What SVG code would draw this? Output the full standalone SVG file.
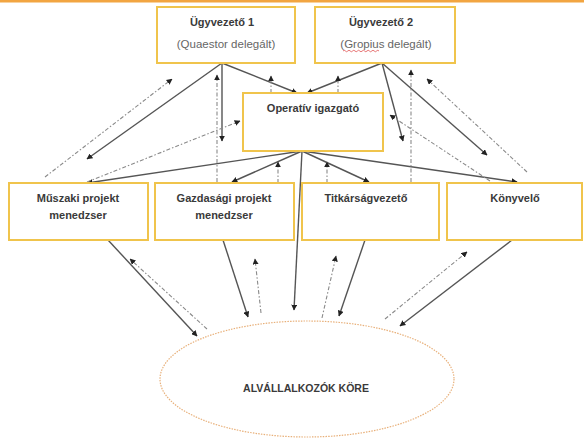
<svg xmlns="http://www.w3.org/2000/svg" width="584" height="440" viewBox="0 0 584 440">
<style>
.box{fill:#fff;stroke:#f0c44c;stroke-width:2}
.t{font-family:"Liberation Sans",Arial,sans-serif;font-weight:bold;font-size:11px;fill:#3a3a3a;text-anchor:middle}
.s{font-family:"Liberation Sans",Arial,sans-serif;font-size:11.5px;fill:#666;text-anchor:middle}
.sol{stroke:#555;stroke-width:1.4;fill:none;marker-end:url(#a)}
.das{stroke:#8a8a8a;stroke-width:1.1;fill:none;stroke-dasharray:4 2 1.5 2;marker-end:url(#b)}
</style>
<defs>
<marker id="a" viewBox="0 0 10 10" refX="9" refY="5" markerWidth="6" markerHeight="6" markerUnits="userSpaceOnUse" orient="auto"><path d="M0,0 L10,5 L0,10 z" fill="#222"/></marker>
<marker id="b" viewBox="0 0 10 10" refX="9" refY="5" markerWidth="6" markerHeight="6" markerUnits="userSpaceOnUse" orient="auto"><path d="M0,0 L10,5 L0,10 z" fill="#222"/></marker>
</defs>
<rect width="584" height="440" fill="#fff"/>
<rect x="0" y="0" width="584" height="2.5" fill="#f2a541"/>
<g id="connectors">
<line class="sol" x1="222" y1="63" x2="87" y2="159"/>
<line class="sol" x1="222" y1="63" x2="222" y2="141"/>
<line class="sol" x1="222" y1="63" x2="297" y2="93"/>
<line class="sol" x1="382" y1="63" x2="307" y2="93"/>
<line class="sol" x1="382" y1="63" x2="403" y2="141"/>
<line class="sol" x1="382" y1="63" x2="487" y2="155"/>
<line class="sol" x1="302" y1="151" x2="87" y2="183"/>
<line class="sol" x1="302" y1="151" x2="232" y2="182"/>
<line class="sol" x1="302" y1="151" x2="369" y2="182"/>
<line class="sol" x1="302" y1="151" x2="517" y2="182"/>
<line class="sol" x1="302" y1="151" x2="294" y2="310"/>
<line class="sol" x1="108" y1="240" x2="197" y2="336"/>
<line class="sol" x1="223" y1="240" x2="248" y2="317"/>
<line class="sol" x1="365" y1="240" x2="339" y2="316"/>
<line class="sol" x1="512" y1="240" x2="400" y2="326"/>
<line class="das" x1="45" y1="177" x2="172" y2="79"/>
<line class="das" x1="87" y1="182" x2="240" y2="121"/>
<line class="das" x1="217" y1="182" x2="217" y2="75"/>
<line class="das" x1="271" y1="93" x2="271" y2="76"/>
<line class="das" x1="338" y1="93" x2="338" y2="76"/>
<line class="das" x1="411" y1="182" x2="411" y2="70"/>
<line class="das" x1="527" y1="172" x2="427" y2="79"/>
<line class="das" x1="490" y1="181" x2="390" y2="115"/>
<line class="das" x1="278" y1="183" x2="278" y2="162"/>
<line class="das" x1="327" y1="183" x2="327" y2="162"/>
<line class="das" x1="207" y1="329" x2="130" y2="259"/>
<line class="das" x1="261" y1="313" x2="255" y2="259"/>
<line class="das" x1="322" y1="318" x2="336" y2="256"/>
<line class="das" x1="385" y1="319" x2="467" y2="252"/>
</g>
<g id="ugyvezeto1">
<rect class="box" x="157" y="7" width="138" height="56"/>
<text class="t" x="222" y="26">Ügyvezető 1</text>
<text class="s" x="226" y="48">(Quaestor delegált)</text>
</g>
<g id="ugyvezeto2">
<rect class="box" x="315" y="7" width="140" height="56"/>
<text class="t" x="381" y="26">Ügyvezető 2</text>
<text class="s" x="386" y="48">(Gropius delegált)</text>
<path d="M343,51 q1.2,-1.5 2.4,0 t2.4,0 t2.4,0 t2.4,0 t2.4,0 t2.4,0 t2.4,0 t2.4,0 t2.4,0 t2.4,0 t2.4,0 t2.4,0 t2.4,0 t2.4,0 t2.4,0" fill="none" stroke="#e05050" stroke-width="0.8"/>
</g>
<g id="operativ">
<rect class="box" x="243" y="93" width="140" height="58"/>
<text class="t" x="313" y="112">Operatív igazgató</text>
</g>
<g id="muszaki">
<rect class="box" x="9" y="183" width="139" height="57"/>
<text class="t" x="78" y="202">Műszaki projekt</text>
<text class="t" x="78" y="219">menedzser</text>
</g>
<g id="gazdasagi">
<rect class="box" x="155" y="183" width="139" height="57"/>
<text class="t" x="224" y="202">Gazdasági projekt</text>
<text class="t" x="224" y="219">menedzser</text>
</g>
<g id="titkarsag">
<rect class="box" x="302" y="183" width="137" height="57"/>
<text class="t" x="366" y="202">Titkárságvezető</text>
</g>
<g id="konyvelo">
<rect class="box" x="447" y="183" width="135" height="57"/>
<text class="t" x="515" y="202">Könyvelő</text>
</g>
<g id="alvallalkozok">
<ellipse cx="307" cy="379" rx="147" ry="58" fill="#fff" stroke="#e8b07a" stroke-width="1.2" stroke-dasharray="1.5 1.2"/>
<text class="t" x="306" y="392" style="font-size:10.5px">ALVÁLLALKOZÓK KÖRE</text>
</g>
</svg>
